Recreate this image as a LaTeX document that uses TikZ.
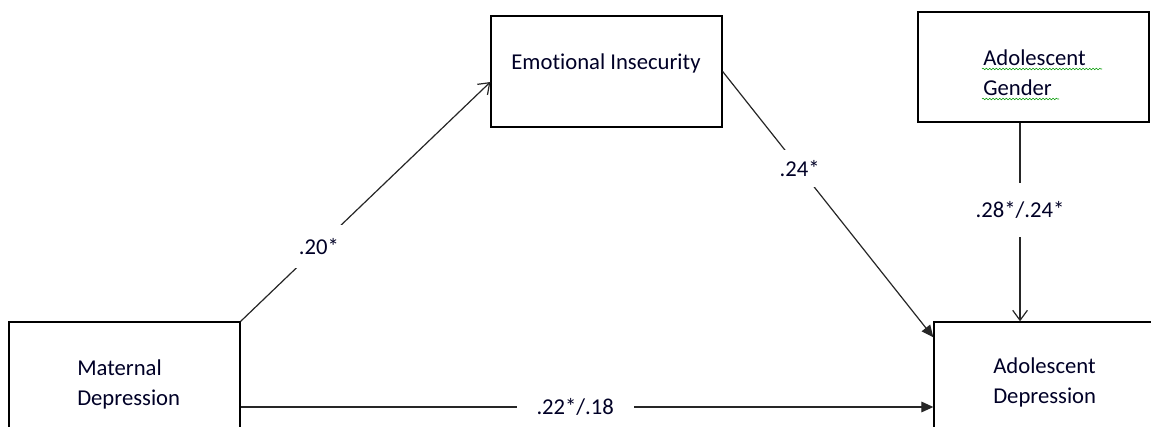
\documentclass[tikz,border=0pt]{standalone}
\usepackage{fontspec}
\setmainfont{Carlito}[Ligatures=NoCommon]
\usetikzlibrary{arrows.meta,decorations.pathmorphing}
\tikzset{
  varbox/.style={draw=black, line width=1pt, rectangle, inner sep=0pt, minimum width=173.25pt},
  varlabel/.style={font=\fontsize{17}{22.5}\selectfont, inner sep=0pt, text=black!85!blue},
  coef/.style={font=\fontsize{17}{22.5}\selectfont, fill=white, inner sep=0pt, text=black!85!blue},
  openarr/.style={draw=black!85, line width=0.9pt, -{Straight Barb[length=7.5pt, width=11pt]}},
  fillarr/.style={draw=black!85, line width=0.9pt, -{Triangle[length=9pt, width=8pt]}},
  spellmark/.style={draw=green!60!black, line width=0.4pt, decorate, decoration={snake, amplitude=0.6pt, segment length=2.5pt}}
}
\begin{document}
\begin{tikzpicture}[x=0.75pt, y=-0.75pt]
  \clip (0,0) rectangle (1151,427);
  \node[varbox, minimum height=127.5pt] (mat) at (124.5,407) {};
  \node[varbox, minimum height=83.25pt] (emo) at (606.5,71.5) {};
  \node[varbox, minimum height=82.5pt] (gen) at (1033.5,67) {};
  \node[varbox, minimum height=127.5pt] (dep) at (1049.5,407) {};
  \node[varlabel, anchor=west, align=left] (matname) at (77,384) {Maternal\\Depression};
  \node[varlabel] (emoname) at (606,63) {Emotional Insecurity};
  \node[varlabel, anchor=west, align=left] (genname) at (983,73) {Adolescent\\Gender};
  \node[varlabel, anchor=west, align=left] (depname) at (993,382) {Adolescent\\Depression};
  \draw[spellmark] (982,69) -- (1102,69);
  \draw[spellmark] (982,99) -- (1059,99);
  \coordinate (genfoot) at ([xshift=-10.1pt]gen.south);
  \draw[openarr] (mat.north east) -- node[coef, pos=0.313, inner xsep=6pt, inner ysep=10pt] (c1) {.20*} ([yshift=-7.9pt]emo.west);
  \draw[fillarr] (emo.east) -- node[coef, pos=0.365, inner ysep=7.5pt] (c2) {.24*} ([yshift=-12pt]dep.north west);
  \draw[openarr] (genfoot) -- node[coef, pos=0.44, inner xsep=2pt, inner ysep=14pt] (c3) {.28*/.24*} (genfoot |- dep.north);
  \draw[fillarr] (mat.east) -- node[coef, pos=0.483, inner xsep=15pt, inner ysep=4pt] (c4) {.22*/.18} (dep.west);
\end{tikzpicture}
\end{document}
